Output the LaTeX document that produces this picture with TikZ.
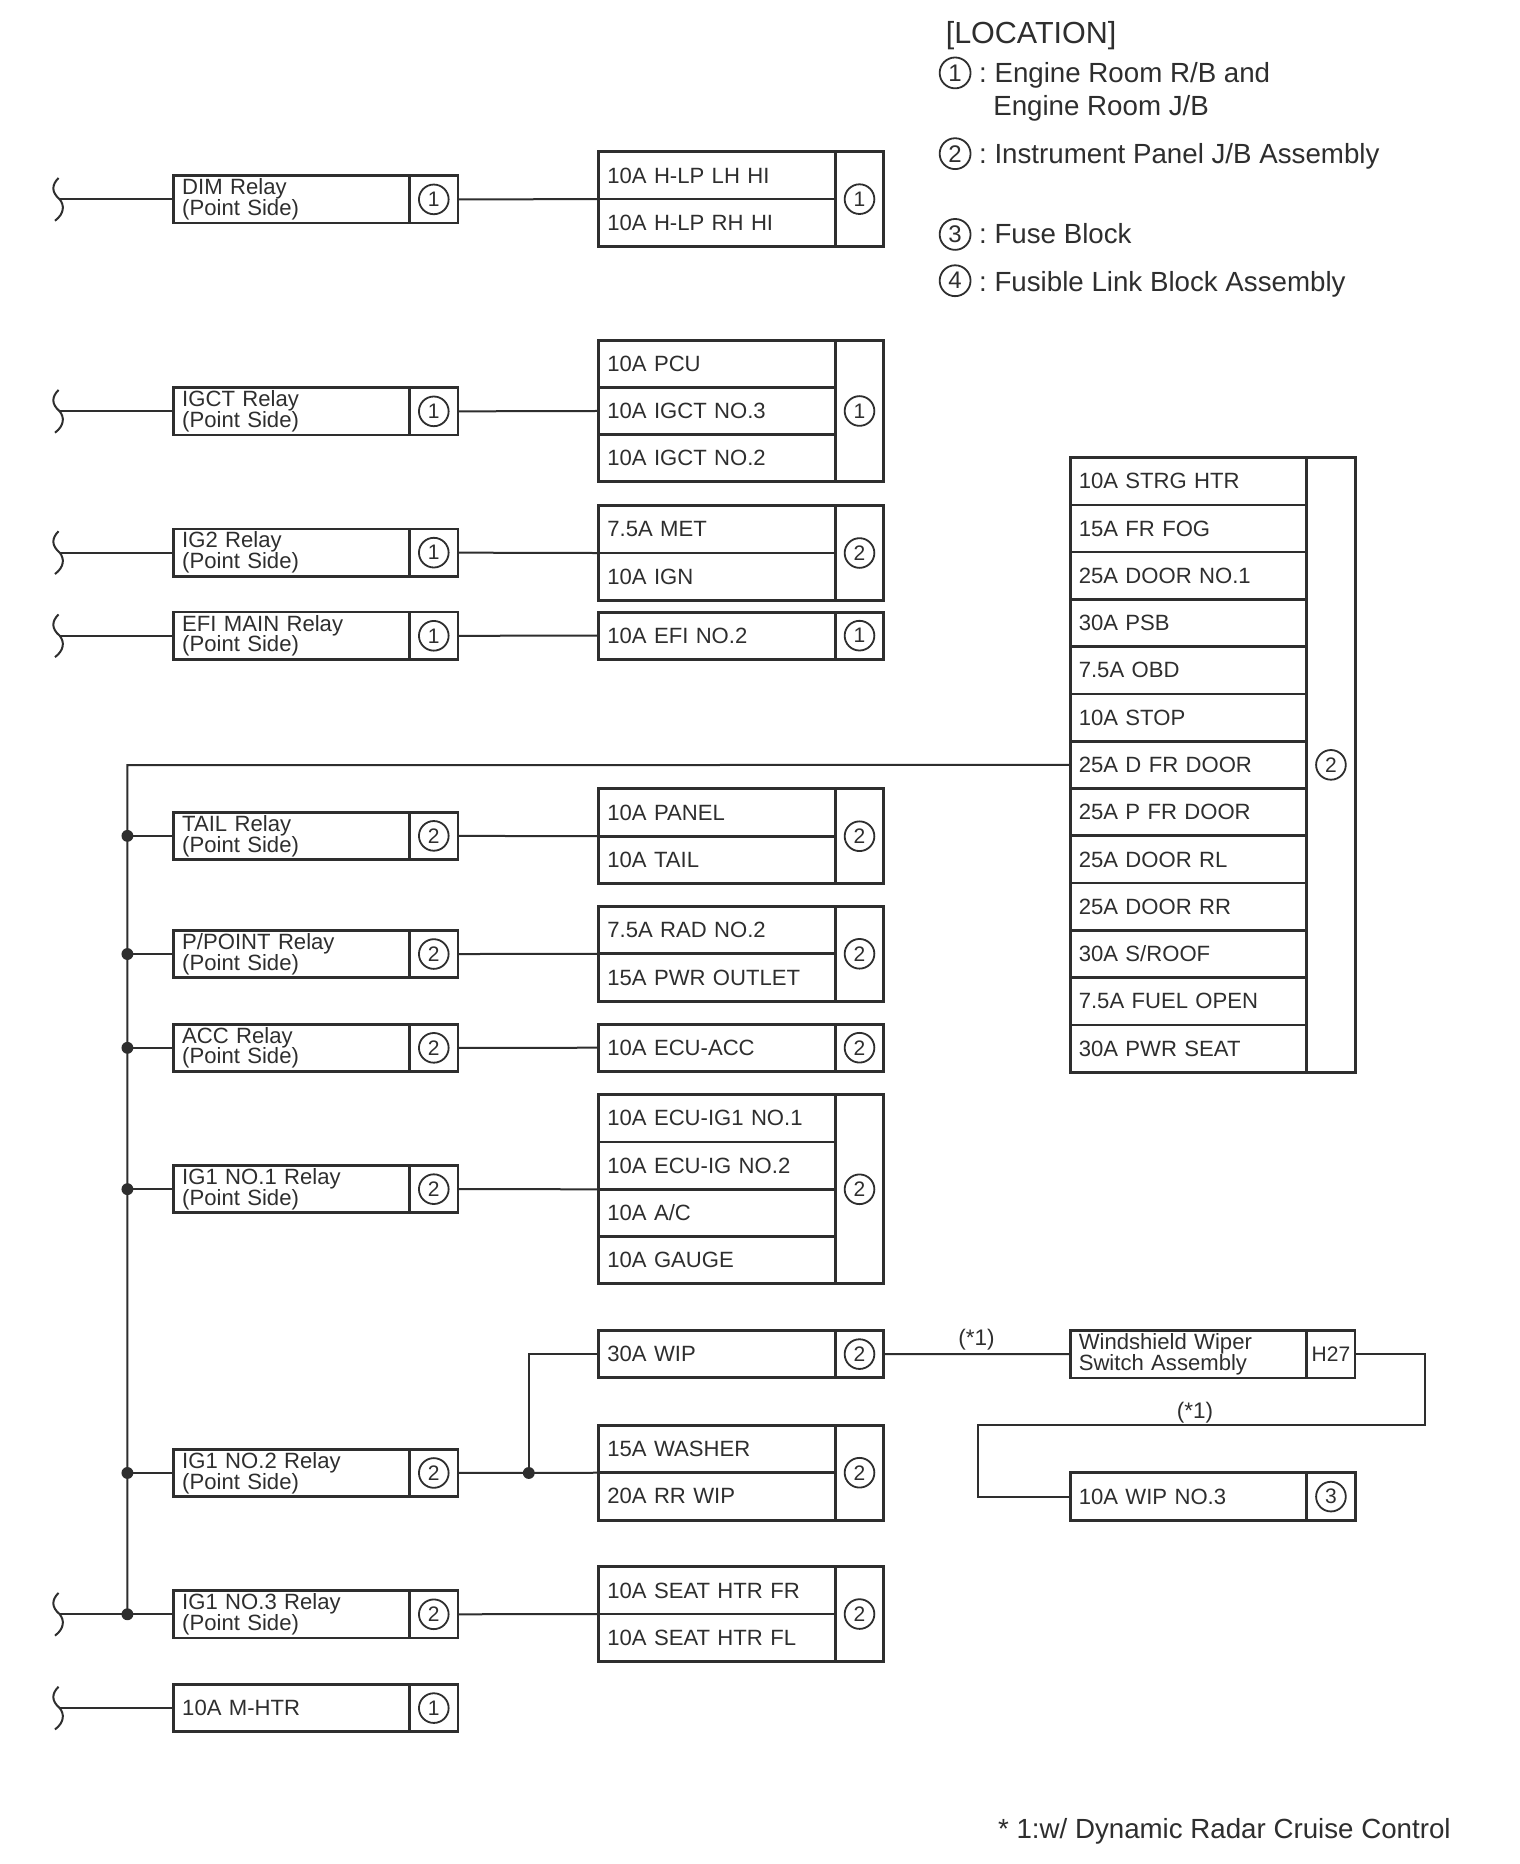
\documentclass[tikz,border=0pt]{standalone}
\usepackage{fontspec}
\setmainfont{Liberation Sans}
\definecolor{ink}{gray}{0.18}
\def\U{1.1875pt}
\tikzset{
  cell/.style={draw=ink,line width=2.6pt,fill=white,inner sep=0pt,outer sep=0pt,anchor=center,text=ink},
  txt/.style={cell,align=left,inner xsep=8.5pt,text width={(199*1.1875-17)*1pt},minimum width={199*\U},minimum height={39.8*\U},font=\fontsize{22.1}{20.8}\selectfont},
  tagc/.style={cell,minimum width={40.5*\U},font=\fontsize{21}{24}\selectfont},
  ring/.style={circle,draw=ink,line width=1.8pt,fill=white,text=ink,inner sep=0pt,outer sep=0pt,minimum size={25*\U},font=\fontsize{21}{24}\selectfont},
  bigring/.style={ring,minimum size={26*\U},font=\fontsize{24}{26}\selectfont},
  wire/.style={draw=ink,line width=2pt},
  dotj/.style={circle,fill=ink,draw=none,inner sep=0pt,minimum size={10*\U}},
  grp/.style={draw=ink,line width=3pt,inner sep=0pt,outer sep=0pt,fill=none},
  lab/.style={text=ink,inner sep=0pt,anchor=base west,font=\fontsize{27.7}{30}\selectfont},
  note/.style={text=ink,inner sep=0pt,font=\fontsize{22.5}{24}\selectfont}
}
\newcommand\cln{:\kern7.8pt}
% relay box: name, y centre, text, digit
\newcommand\relaybox[4]{%
  \node[txt] (#1) at (245.5,#2) {#3};
  \node[tagc,minimum height={39.8*\U}] (#1-tag) at (365,#2) {};
  \node[ring] (#1-c) at (#1-tag.center) {#4};
}
\newcommand\squig[2]{%
  \draw[wire] (49,#2-18) .. controls (43,#2-12) and (43,#2-6) .. (50,#2) .. controls (54,#2+5) and (54,#2+12) .. (46,#2+18);
  \coordinate (#1) at (50,#2);
}
% fuse group: name, x left, y top, nrows, digit, rows
\newcommand\fusegroup[6]{%
  \foreach \t [count=\i] in {#6} {
    \node[txt] (#1-\i) at (#2+99.5,{#3+(\i-0.5)*39.8}) {\t};
  }
  \node[tagc,minimum height={#4*39.8*\U}] (#1-tag) at (#2+219.5,{#3+#4*39.8/2}) {};
  \node[ring] (#1-c) at (#1-tag.center) {#5};
  \node[grp,minimum width={240*\U},minimum height={#4*39.8*\U}] (#1) at (#2+120,{#3+#4*39.8/2}) {};
}
\begin{document}
\begin{tikzpicture}[x=1.1875pt,y=-1.1875pt]
\useasboundingbox (-0.3,-0.4) rectangle (1279.7,1569.3);
\fill[white] (-0.3,-0.4) rectangle (1279.7,1569.3);

% legend
\node[lab,font=\fontsize{30.5}{32}\selectfont] (lt) at (796,36) {[LOCATION]};
\node[bigring] (l1) at (804,61) {1};
\node[lab] (l1a) at (824,69) {\cln Engine Room R/B and};
\node[lab] (l1b) at (836,97) {Engine Room J/B};
\node[bigring] (l2) at (804,129) {2};
\node[lab] (l2a) at (824,137) {\cln Instrument Panel J/B Assembly};
\node[bigring] (l3) at (804,197) {3};
\node[lab] (l3a) at (824,205) {\cln Fuse Block};
\node[bigring] (l4) at (804,236) {4};
\node[lab] (l4a) at (824,245) {\cln Fusible Link Block Assembly};
\node[lab] (foot) at (840,1548) {* 1:w/ Dynamic Radar Cruise Control};

% squiggles
\squig{dim-s}{167.5}
\squig{igct-s}{346}
\squig{igtwo-s}{465}
\squig{efi-s}{535}
\squig{igthree-s}{1359}
\squig{mhtr-s}{1438}

\coordinate (busTop) at (107,644);
\coordinate (r1) at (1200,1140);
\coordinate (r2) at (1200,1200);
\coordinate (r3) at (823,1200);

% relays
\relaybox{dim}{167.5}{DIM Relay\\(Point Side)}{1}
\relaybox{igct}{346}{IGCT Relay\\(Point Side)}{1}
\relaybox{igtwo}{465}{IG2 Relay\\(Point Side)}{1}
\relaybox{efi}{535}{EFI MAIN Relay\\(Point Side)}{1}
\relaybox{tail}{703.5}{TAIL Relay\\(Point Side)}{2}
\relaybox{ppoint}{803}{P/POINT Relay\\(Point Side)}{2}
\relaybox{acc}{882}{ACC Relay\\(Point Side)}{2}
\relaybox{ignoa}{1001}{IG1 NO.1 Relay\\(Point Side)}{2}
\relaybox{ignob}{1240}{IG1 NO.2 Relay\\(Point Side)}{2}
\relaybox{ignoc}{1359}{IG1 NO.3 Relay\\(Point Side)}{2}
\relaybox{mhtr}{1438}{10A M-HTR}{1}

% fuse groups
\fusegroup{gdim}{504}{127.5}{2}{1}{10A H-LP LH HI,10A H-LP RH HI}
\fusegroup{gigct}{504}{286}{3}{1}{10A PCU,10A IGCT NO.3,10A IGCT NO.2}
\fusegroup{gigtwo}{504}{425.5}{2}{2}{7.5A MET,10A IGN}
\fusegroup{gefi}{504}{515}{1}{1}{10A EFI NO.2}
\fusegroup{gtail}{504}{664}{2}{2}{10A PANEL,10A TAIL}
\fusegroup{gppoint}{504}{763}{2}{2}{7.5A RAD NO.2,15A PWR OUTLET}
\fusegroup{gacc}{504}{862}{1}{2}{10A ECU-ACC}
\fusegroup{gignoa}{504}{921.5}{4}{2}{10A ECU-IG1 NO.1,10A ECU-IG NO.2,10A A/C,10A GAUGE}
\fusegroup{gwip}{504}{1120}{1}{2}{30A WIP}
\fusegroup{gwash}{504}{1200}{2}{2}{15A WASHER,20A RR WIP}
\fusegroup{gseat}{504}{1319}{2}{2}{10A SEAT HTR FR,10A SEAT HTR FL}
\fusegroup{gtall}{901}{385}{13}{2}{10A STRG HTR,15A FR FOG,25A DOOR NO.1,30A PSB,7.5A OBD,10A STOP,25A D FR DOOR,25A P FR DOOR,25A DOOR RL,25A DOOR RR,30A S/ROOF,7.5A FUEL OPEN,30A PWR SEAT}
\fusegroup{gwipn}{901}{1240}{1}{3}{10A WIP NO.3}

% windshield wiper switch
\node[txt] (wind) at (1000.5,1140) {Windshield Wiper\\Switch Assembly};
\node[tagc,minimum height={39.8*\U}] (wind-tag) at (1120.5,1140) {H27};

% junction dots
\node[dotj] (ja) at (107,703.5) {};
\node[dotj] (jb) at (107,803) {};
\node[dotj] (jc) at (107,882) {};
\node[dotj] (jd) at (107,1001) {};
\node[dotj] (je) at (107,1240) {};
\node[dotj] (jf) at (107,1359) {};
\node[dotj] (jg) at (445,1240) {};

% connectors
\draw[wire] (dim-s) -- (dim.west);
\draw[wire] (igct-s) -- (igct.west);
\draw[wire] (igtwo-s) -- (igtwo.west);
\draw[wire] (efi-s) -- (efi.west);
\draw[wire] (igthree-s) -- (jf.center) -- (ignoc.west);
\draw[wire] (mhtr-s) -- (mhtr.west);
\draw[wire] (dim-tag.east) -- (gdim.west);
\draw[wire] (igct-tag.east) -- (gigct.west);
\draw[wire] (igtwo-tag.east) -- (gigtwo.west);
\draw[wire] (efi-tag.east) -- (gefi.west);
\draw[wire] (tail-tag.east) -- (gtail.west);
\draw[wire] (ppoint-tag.east) -- (gppoint.west);
\draw[wire] (acc-tag.east) -- (gacc.west);
\draw[wire] (ignoa-tag.east) -- (gignoa.west);
\draw[wire] (ignob-tag.east) -- (gwash.west);
\draw[wire] (ignoc-tag.east) -- (gseat.west);
\draw[wire] (gtall.west) -- (busTop) -- (jf.center);
\draw[wire] (ja.center) -- (tail.west);
\draw[wire] (jb.center) -- (ppoint.west);
\draw[wire] (jc.center) -- (acc.west);
\draw[wire] (jd.center) -- (ignoa.west);
\draw[wire] (je.center) -- (ignob.west);
\draw[wire] (jg.center) |- (gwip.west);
\draw[wire] (gwip-tag.east) -- (wind.west);
\draw[wire] (wind-tag.east) -- (r1) -- (r2) -- (r3) |- (gwipn.west);

% connector notes
\node[note] (na) at (822,1128) {(*1)};
\node[note] (nb) at (1006,1189) {(*1)};
\end{tikzpicture}
\end{document}
